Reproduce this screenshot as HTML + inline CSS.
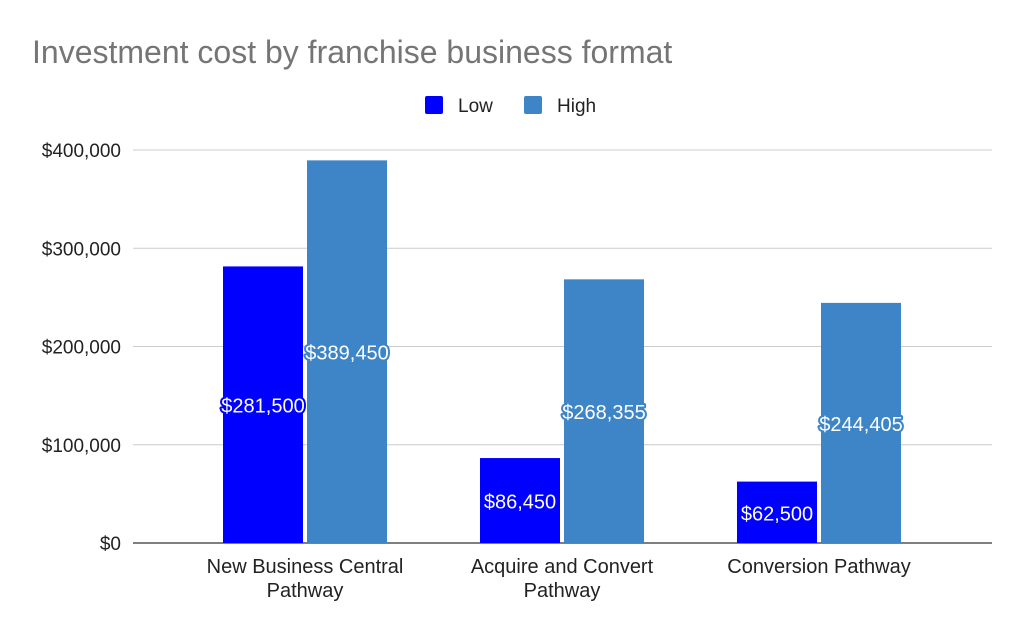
<!DOCTYPE html>
<html><head><meta charset="utf-8"><style>
body{margin:0;background:#fff}
svg text{font-family:"Liberation Sans",sans-serif}
</style></head><body>
<svg id="chart" width="1024" height="633" viewBox="0 0 1024 633">
<text x="32" y="63" font-size="32" fill="#757575">Investment cost by franchise business format</text>
<g>
<g><rect x="425" y="96" width="18" height="18" rx="2" fill="#0000ff"/><text x="458" y="112" font-size="19" fill="#222">Low</text></g>
<g><rect x="524" y="96" width="18" height="18" rx="2" fill="#3d85c6"/><text x="557" y="112" font-size="19" fill="#222">High</text></g>
</g>
<g id="grid"></g><g id="bars"></g><g id="labels"></g>
</svg>
<script>
const categories=[["New Business Central","Pathway"],["Acquire and Convert","Pathway"],["Conversion Pathway"]];
const lowValues=[281500,86450,62500];
const highValues=[389450,268355,244405];
const tickValues=[0,100000,200000,300000,400000];
const tickLabels=["$0","$100,000","$200,000","$300,000","$400,000"];
const NS="http://www.w3.org/2000/svg";
const x0=133,x1=992,y0=543,yTop=150,maxV=400000;
const bandStart=176.5,bw=257;
const y=v=>y0-(v/maxV)*(y0-yTop);
const cx=i=>bandStart+bw*(i+0.5);
function mk(t,a,p){const e=document.createElementNS(NS,t);for(const k in a)e.setAttribute(k,a[k]);p.appendChild(e);return e;}
const grid=document.getElementById('grid'),bars=document.getElementById('bars'),labels=document.getElementById('labels');
tickValues.forEach((v,i)=>{
 const l=mk('line',{x1:x0,x2:x1,y1:y(v),y2:y(v),stroke:i===0?'#333':'#ccc','stroke-width':i===0?1.3:1},grid);
 
 
 const t=mk('text',{x:121,y:y(v)+7,'font-size':19,fill:'#222','text-anchor':'end'},grid);
 t.textContent=tickLabels[i];
 
 
});
const series=[{vals:lowValues,color:'#0000ff',off:-82,name:'low'},{vals:highValues,color:'#3d85c6',off:2,name:'high'}];
categories.forEach((c,i)=>{
 series.forEach(s=>{
  const v=s.vals[i],bx=cx(i)+s.off;
  const r=mk('rect',{x:bx,y:y(v),width:80,height:y0-y(v),fill:s.color},bars);
  
  
  const t=mk('text',{x:bx+40,y:(y(v)+y0)/2+8,'font-size':20,fill:'#fff','text-anchor':'middle',stroke:s.color,'stroke-width':4,'paint-order':'stroke','stroke-linejoin':'round'},labels);
  t.textContent='$'+v.toLocaleString('en-US');
  
  
 });
 c.forEach((line,j)=>{
  const t=mk('text',{x:cx(i),y:573+j*24,'font-size':20,fill:'#222','text-anchor':'middle'},labels);
  t.textContent=line;
  
  
 });
});
</script>
</body></html>
